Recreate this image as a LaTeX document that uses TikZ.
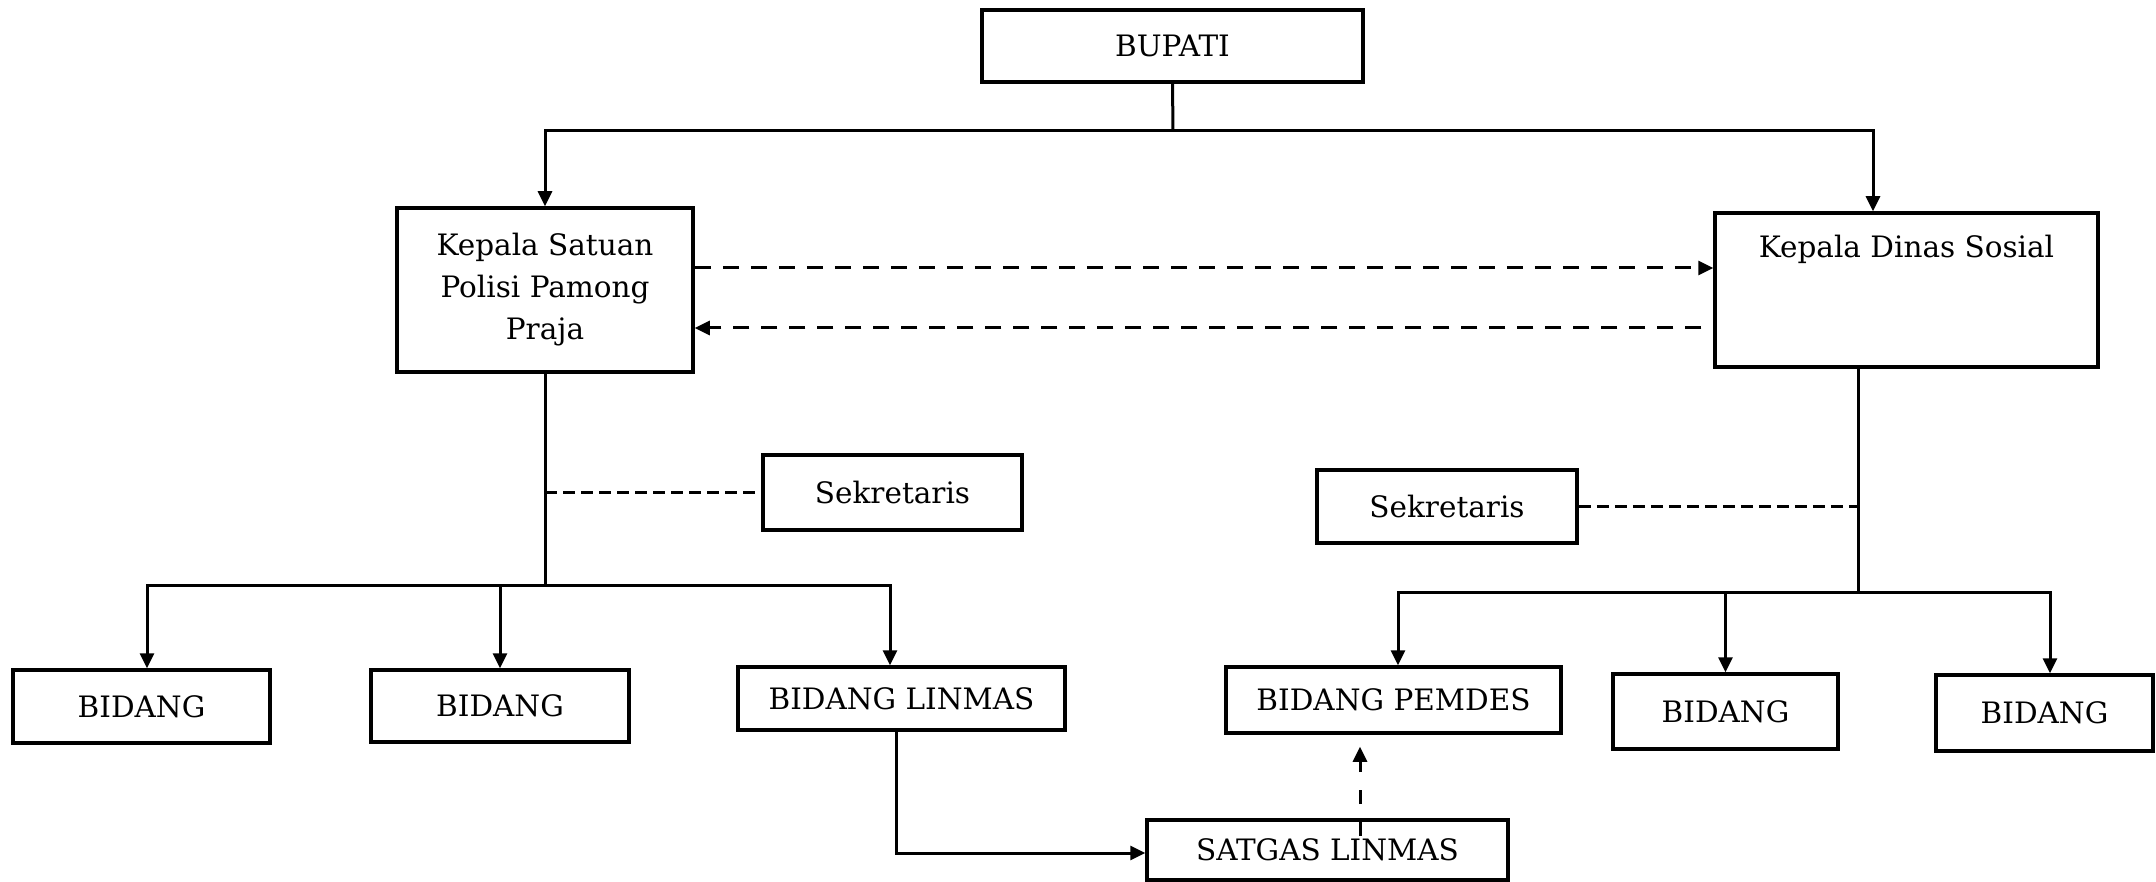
\documentclass[tikz,border=0pt]{standalone}
\usepackage{fontspec}
\setmainfont{DejaVu Serif}
\usetikzlibrary{arrows.meta}
\begin{document}
\begin{tikzpicture}[x=1pt,y=-1pt,
  box/.style={draw, line width=3.5pt, inner sep=0pt, font=\fontsize{29.5}{42}\selectfont, align=center},
  line/.style={line width=3pt},
  arr/.style={line width=3pt, -{Triangle[length=15pt,width=14pt]}},
  bigdash/.style={dash pattern=on 16pt off 12pt},
  smalldash/.style={dash pattern=on 12pt off 6pt},
  vdash/.style={dash pattern=on 14pt off 18pt}]
\useasboundingbox (0,0) rectangle (2156,882);
\fill[white] (0,0) rectangle (2156,882);

% nodes
\node[box, minimum width=381pt, minimum height=72pt] (bupati) at (1172.5,46) {BUPATI};
\node[box, minimum width=296pt, minimum height=164pt] (satuan) at (545,290) {Kepala Satuan\\Polisi Pamong\\Praja};
\node[box, minimum width=383pt, minimum height=154pt, text height=45pt, text depth=109pt] (dinas) at (1906.5,290) {Kepala Dinas Sosial};
\node[box, minimum width=259pt, minimum height=75pt] (sek1) at (892.5,492.5) {Sekretaris};
\node[box, minimum width=260pt, minimum height=73pt] (sek2) at (1447,506.5) {Sekretaris};
\node[box, minimum width=257pt, minimum height=73pt] (bid1) at (141.5,706.5) {BIDANG};
\node[box, minimum width=258pt, minimum height=72pt] (bid2) at (500,706) {BIDANG};
\node[box, minimum width=327pt, minimum height=63pt] (linmas) at (901.5,698.5) {BIDANG LINMAS};
\node[box, minimum width=335pt, minimum height=66pt] (pemdes) at (1393.5,700) {BIDANG PEMDES};
\node[box, minimum width=225pt, minimum height=75pt] (bid3) at (1725.5,711.5) {BIDANG};
\node[box, minimum width=217pt, minimum height=76pt] (bid4) at (2044.5,713) {BIDANG};
\node[box, minimum width=361pt, minimum height=60pt] (satgas) at (1327.5,850) {SATGAS LINMAS};

% top level
\coordinate (tj) at (1173,131);
\draw[line] (bupati.south) -- (tj);
\draw[arr] (tj) -| (satuan.north);
\draw[arr] (tj) -| ([xshift=-33.5pt]dinas.north);

% coordination dashed arrows
\draw[arr,bigdash] ([yshift=22pt]satuan.east) -- ([yshift=22pt]dinas.west);
\draw[arr,bigdash,shorten <=12pt] ([yshift=-38pt]dinas.west) -- ([yshift=-38pt]satuan.east);

% left branch
\coordinate (lj) at (545,585);
\draw[line] (satuan.south) -- (lj);
\draw[line,smalldash] (satuan.south |- sek1.west) -- (sek1.west);
\draw[arr] (lj) -| ([xshift=5.5pt]bid1.north);
\draw[arr] (lj) -| ([xshift=-11.5pt]linmas.north);
\draw[arr] (bid2.north |- lj) -- (bid2.north);

% right branch
\coordinate (rj) at (1858,592);
\draw[line] (rj |- dinas.south) -- (rj);
\draw[line,smalldash] (sek2.east) -- (rj |- sek2.east);
\draw[arr] (rj) -| ([xshift=4.5pt]pemdes.north);
\draw[arr] (rj) -| ([xshift=5.5pt]bid4.north);
\draw[arr] (bid3.north |- rj) -- (bid3.north);

% linmas to satgas
\coordinate (lc) at (896,853);
\draw[arr] (lc |- linmas.south) -- (lc) -- (satgas.west |- lc);

% satgas to pemdes
\coordinate (sd) at (1360,836);
\draw[arr,vdash,shorten >=12pt] (sd) -- (sd |- pemdes.south);
\end{tikzpicture}
\end{document}
